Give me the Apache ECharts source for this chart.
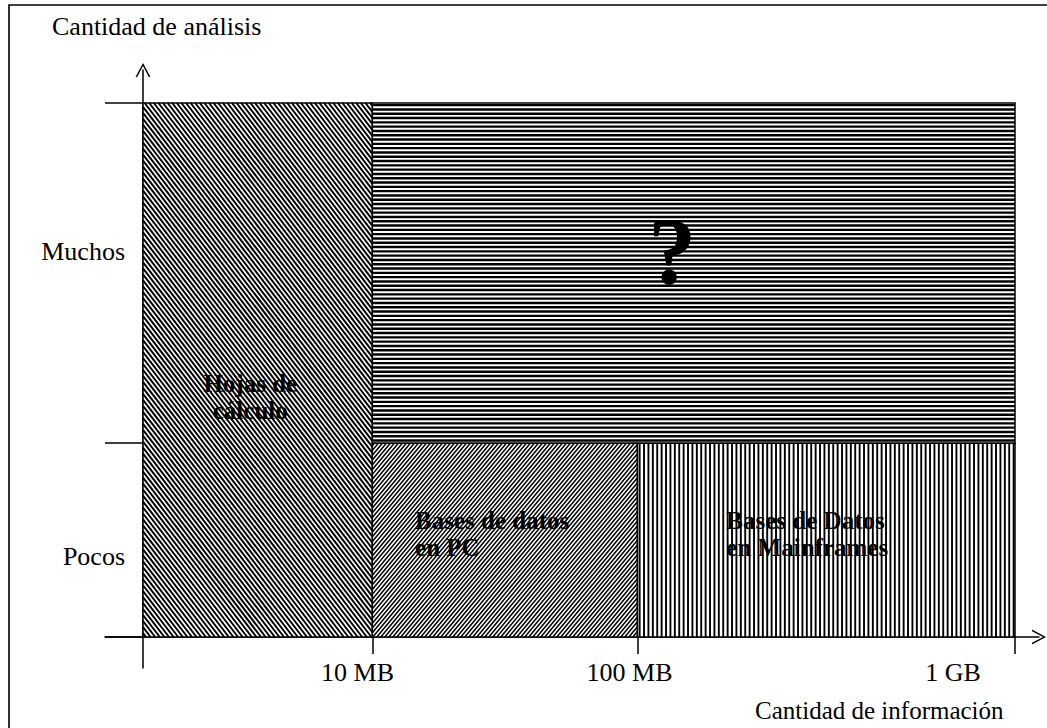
<!DOCTYPE html>
<html>
<head>
<meta charset="utf-8">
<script src="https://cdn.jsdelivr.net/npm/echarts@6/dist/echarts.min.js"></script>
<style>
html,body{margin:0;padding:0;background:#fff;}
#chart{width:1047px;height:728px;}
</style>
</head>
<body>
<div id="chart"></div>
<script>
// ---- data (diagram units: x 0..100 = origin..1 GB, y 0..100 = bottom..top) ----
const regionNames  = ['Hojas de\ncálculo', '?', 'Bases de datos\nen PC', 'Bases de Datos\nen Mainframes'];
const regionXStart = [0, 26.3, 26.3, 56.7];
const regionXEnd   = [26.3, 100, 56.7, 100];
const regionYStart = [0, 36.3, 0, 0];
const regionYEnd   = [100, 100, 36.3, 36.3];

const xTickValues = [26.3, 56.7, 100];
const xTickLabels = ['10 MB', '100 MB', '1 GB'];
const yTickValues = [0, 36.3, 100];
const yLevelLabels = ['Pocos', 'Muchos'];

const xAxisTitle = 'Cantidad de información';
const yAxisTitle = 'Cantidad de análisis';

// ---- layout / style (not data) ----
const xLabelAt = [24.6, 55.8, 92.9];
const yLabelAt = [15.0, 72.1];
const regionLabelAnchor = [[12.3, 44.9], [60.7, 72.1], [31.2, 19.3], [66.9, 19.3]];
const regionLabelAlign = ['center', 'center', 'left', 'left'];
const regionLabelSize = [25, 96, 25, 25];
const patterns = [
  {kind: 'd', slope: 1.3, gap: 4.6, lw: 2.0},
  {kind: 'h', gap: 4.3, lw: 2.4},
  {kind: 'd', slope: -1.2, gap: 4.0, lw: 1.5},
  {kind: 'v', gap: 4.4, lw: 1.9}
];
const PXX = 8.72, PXY = 5.34, OX = 143, OY = 637;
const xMin = -38 / PXX, xMax = (1039 - OX) / PXX;
const yMin = -(668 - OY) / PXY, yMax = (OY - 70) / PXY;
const SERIF = '"Liberation Serif", "DejaVu Serif", serif';

function hatch(x0, y0, x1, y1, pat) {
  const out = [];
  if (pat.kind === 'h') {
    for (let y = y0 + pat.gap / 2; y < y1; y += pat.gap) out.push([x0, y, x1, y]);
  } else if (pat.kind === 'v') {
    for (let x = x0 + pat.gap / 2; x < x1; x += pat.gap) out.push([x, y0, x, y1]);
  } else {
    const m = pat.slope, step = pat.gap * Math.abs(m);
    const cs = [y0 - m * x0, y0 - m * x1, y1 - m * x0, y1 - m * x1];
    const cmin = Math.min.apply(null, cs), cmax = Math.max.apply(null, cs);
    for (let c = cmin + step / 2; c < cmax; c += step) {
      let a = (y0 - c) / m, b = (y1 - c) / m;
      if (a > b) { const t = a; a = b; b = t; }
      const xs = Math.max(x0, a), xe = Math.min(x1, b);
      if (xe > xs) out.push([xs, m * xs + c, xe, m * xe + c]);
    }
  }
  return out;
}

const regionData = regionNames.map((n, i) => [regionXStart[i], regionXEnd[i], regionYStart[i], regionYEnd[i], i]);

function renderRegion(params, api) {
  const i = api.value(4);
  const tl = api.coord([api.value(0), api.value(3)]);
  const br = api.coord([api.value(1), api.value(2)]);
  const x0 = tl[0], y0 = tl[1], x1 = br[0], y1 = br[1];
  const children = [{
    type: 'rect', shape: {x: x0, y: y0, width: x1 - x0, height: y1 - y0},
    style: {fill: '#fff'}, silent: true
  }];
  const pat = patterns[i];
  hatch(x0, y0, x1, y1, pat).forEach(s => {
    children.push({type: 'line', shape: {x1: s[0], y1: s[1], x2: s[2], y2: s[3]},
      style: {stroke: '#000', lineWidth: pat.lw}, silent: true});
  });
  children.push({
    type: 'rect', shape: {x: x0, y: y0, width: x1 - x0, height: y1 - y0},
    style: {fill: 'none', stroke: '#000', lineWidth: 1.5}, silent: true
  });
  const anc = regionLabelAnchor[i];
  const p = api.coord([anc[0], anc[1]]);
  children.push({
    type: 'text', x: p[0], y: p[1], silent: true,
    style: {
      text: regionNames[i], fill: '#000', fontFamily: SERIF, fontWeight: 'bold',
      fontSize: regionLabelSize[i], lineHeight: 27,
      align: regionLabelAlign[i], verticalAlign: 'middle'
    }
  });
  return {type: 'group', children: children};
}

function nearestLabel(v, at, labels) {
  let best = -1, d = 1e9;
  at.forEach((a, k) => { const dd = Math.abs(a - v); if (dd < d) { d = dd; best = k; } });
  return d < 0.5 ? labels[best] : '';
}

const ARROW = 'path://M7.5,0 L15,14 L13.3,14 L7.5,3 L1.7,14 L0,14 Z';
const chart = echarts.init(document.getElementById('chart'), null, {renderer: 'svg'});
chart.setOption({
  animation: false,
  backgroundColor: '#fff',
  grid: {
    left: OX + xMin * PXX, width: (xMax - xMin) * PXX,
    top: OY - yMax * PXY, height: (yMax - yMin) * PXY,
    containLabel: false
  },
  xAxis: {
    type: 'value', min: xMin, max: xMax,
    axisLine: {onZero: true, lineStyle: {color: '#000', width: 1.5}, symbol: ['none', ARROW], symbolSize: [15, 14]},
    axisTick: {show: true, customValues: xTickValues, length: 17, lineStyle: {color: '#000', width: 1.5}},
    axisLabel: {customValues: xLabelAt, margin: -9, color: '#000', fontFamily: SERIF, fontSize: 26,
      formatter: v => nearestLabel(v, xLabelAt, xTickLabels)},
    splitLine: {show: false}
  },
  yAxis: {
    type: 'value', min: yMin, max: yMax,
    axisLine: {onZero: true, lineStyle: {color: '#000', width: 1.5}, symbol: ['none', ARROW], symbolSize: [15, 14]},
    axisTick: {show: true, customValues: yTickValues, length: 38, lineStyle: {color: '#000', width: 1.5}},
    axisLabel: {customValues: yLabelAt, margin: -20, color: '#000', fontFamily: SERIF, fontSize: 26,
      formatter: v => nearestLabel(v, yLabelAt, yLevelLabels)},
    splitLine: {show: false}
  },
  graphic: [
    {type: 'rect', z: -10, silent: true, shape: {x: 9, y: 5, width: 1080, height: 760},
      style: {fill: 'none', stroke: '#000', lineWidth: 1.6}},
    {type: 'text', silent: true, x: 52, y: 26,
      style: {text: yAxisTitle, fill: '#000', fontFamily: SERIF, fontSize: 26, align: 'left', verticalAlign: 'middle'}},
    {type: 'text', silent: true, x: 755, y: 710,
      style: {text: xAxisTitle, fill: '#000', fontFamily: SERIF, fontSize: 25, align: 'left', verticalAlign: 'middle'}}
  ],
  series: [{
    type: 'custom', clip: false, silent: true,
    renderItem: renderRegion,
    data: regionData,
    encode: {x: [0, 1], y: [2, 3]}
  }]
});
</script>
</body>
</html>
